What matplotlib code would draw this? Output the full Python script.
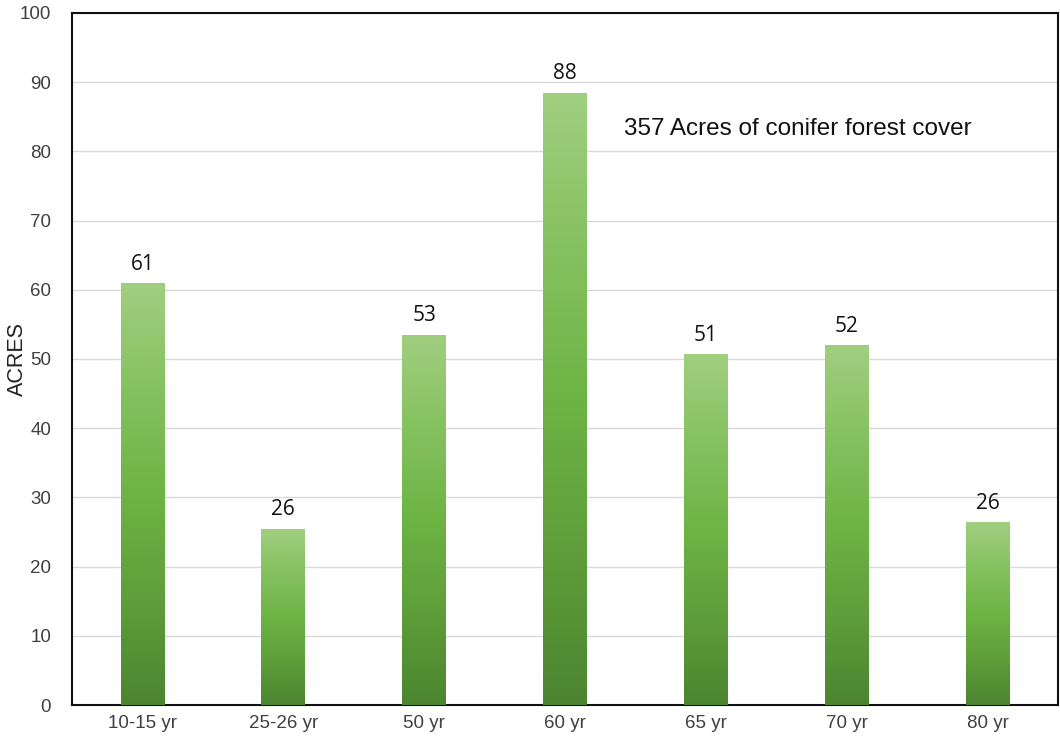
import matplotlib
matplotlib.use("Agg")
import matplotlib.pyplot as plt
import numpy as np
from matplotlib.colors import LinearSegmentedColormap

categories = ["10-15 yr", "25-26 yr", "50 yr", "60 yr", "65 yr", "70 yr", "80 yr"]
heights = [61, 25.5, 53.5, 88.5, 50.7, 52, 26.4]
labels = ["61", "26", "53", "88", "51", "52", "26"]
yticks = [0, 10, 20, 30, 40, 50, 60, 70, 80, 90, 100]
note = "357 Acres of conifer forest cover"

fig = plt.figure(figsize=(10.6, 7.42), dpi=100)
ax = fig.add_axes([72/1060, 37/742, 986/1060, 692/742])

x = np.arange(len(categories))
bars = ax.bar(x, heights, width=0.31, color="none", edgecolor="none", zorder=3)

cmap = LinearSegmentedColormap.from_list(
    "g", ["#4c8430", "#5f9e3a", "#6db445", "#86c160", "#a0cf80"])
grad = np.linspace(0, 1, 256).reshape(-1, 1)
for b in bars:
    x0, y0 = b.get_x(), b.get_y()
    w, h = b.get_width(), b.get_height()
    im = ax.imshow(grad, cmap=cmap, aspect="auto", origin="lower",
                   extent=[x0, x0 + w, y0, y0 + h], zorder=3)
    im.set_clip_path(b)

for xi, h, lab in zip(x, heights, labels):
    ax.text(xi, h + 1.2, lab, ha="center", va="bottom", fontsize=15,
            family="Open Sans", color="#111111", zorder=4)

ax.text(3.42, 83.3, note, ha="left", va="center", fontsize=17.5,
        family="Liberation Sans", color="#111111")

ax.set_xlim(-0.5, len(categories) - 0.5)
ax.set_ylim(0, 100)
ax.set_yticks(yticks)
ax.set_xticks(x)
ax.set_xticklabels(categories)
ax.tick_params(axis="both", length=0, labelsize=13.5, labelcolor="#404040")
ax.tick_params(axis="y", pad=15)
ax.tick_params(axis="x", pad=7)
for lab in ax.get_xticklabels() + ax.get_yticklabels():
    lab.set_family("Liberation Sans")
ax.set_ylabel("ACRES", fontsize=15.5, family="Liberation Sans", color="#222222")
ax.yaxis.set_label_coords(-0.0446, 0.5)
ax.yaxis.grid(True, color="#d9d9d9", linewidth=1, zorder=0)
ax.set_axisbelow(True)
for s in ax.spines.values():
    s.set_color("#111111")
    s.set_linewidth(1.5)

fig.savefig("out.png", dpi=100)
